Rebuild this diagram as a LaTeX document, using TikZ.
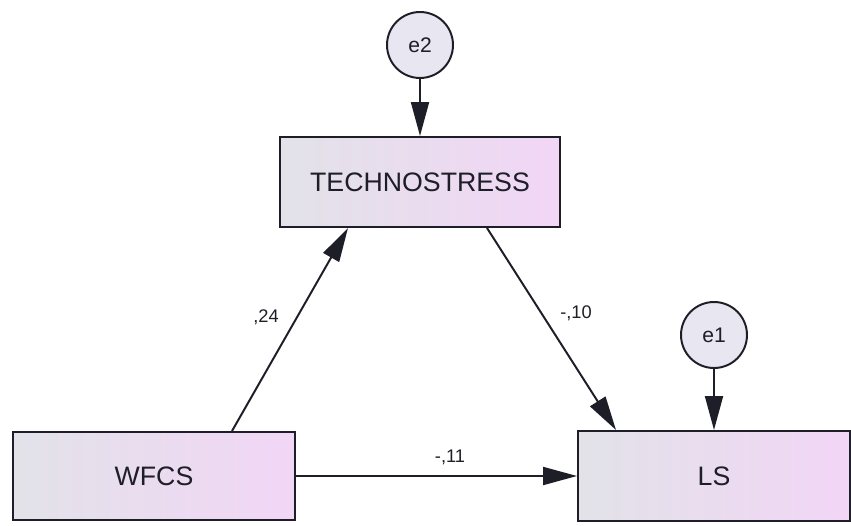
\documentclass[tikz,border=0pt]{standalone}
\usepackage{fontspec}
\setmainfont{Liberation Sans}
\usetikzlibrary{arrows.meta}
\definecolor{boxgray}{RGB}{226,226,232}
\definecolor{boxpink}{RGB}{242,214,246}
\definecolor{errfill}{RGB}{232,230,240}
\definecolor{ink}{RGB}{30,30,40}
\tikzset{
  obsbox/.style={draw=ink, line width=1.4pt, left color=boxgray, right color=boxpink,
    minimum width=7cm, minimum height=2.25cm, text=ink, font=\fontsize{19}{22}\selectfont},
  errcirc/.style={draw=ink, line width=1.4pt, circle, fill=errfill, minimum size=1.65cm,
    inner sep=0pt, text=ink, font=\fontsize{15}{18}\selectfont},
  arr/.style={draw=ink, line width=1.4pt, -{Triangle[length=0.85cm,width=0.45cm]}},
  coef/.style={text=ink, font=\fontsize{13}{15}\selectfont}
}
\begin{document}
\begin{tikzpicture}
\useasboundingbox (0,0) rectangle (21.275,13.125);
\node [obsbox] (tech) at (10.5,8.575) {TECHNOSTRESS};
\node [obsbox, minimum width=7.05cm, minimum height=2.2cm] (wfcs) at (3.85,1.225) {WFCS};
\node [obsbox, minimum width=6.8cm] (ls) at (17.85,1.225) {LS};
\node [errcirc] (e2) at (10.5,12.0) {e2};
\node [errcirc] (e1) at (17.85,4.75) {e1};
\draw [arr] (e2) -- (tech);
\draw [arr] (e1) -- (ls);
\draw [arr] ([xshift=1.95cm]wfcs.north) -- ([xshift=-1.8cm]tech.south);
\draw [arr] ([xshift=1.675cm]tech.south) -- ([xshift=-2.45cm]ls.north);
\draw [arr] (wfcs) -- (ls);
\node [coef] (b1) at (6.65,5.2) {,24};
\node [coef] (b2) at (14.4,5.3) {-,10};
\node [coef] (b3) at (11.25,1.68) {-,11};
\end{tikzpicture}
\end{document}
